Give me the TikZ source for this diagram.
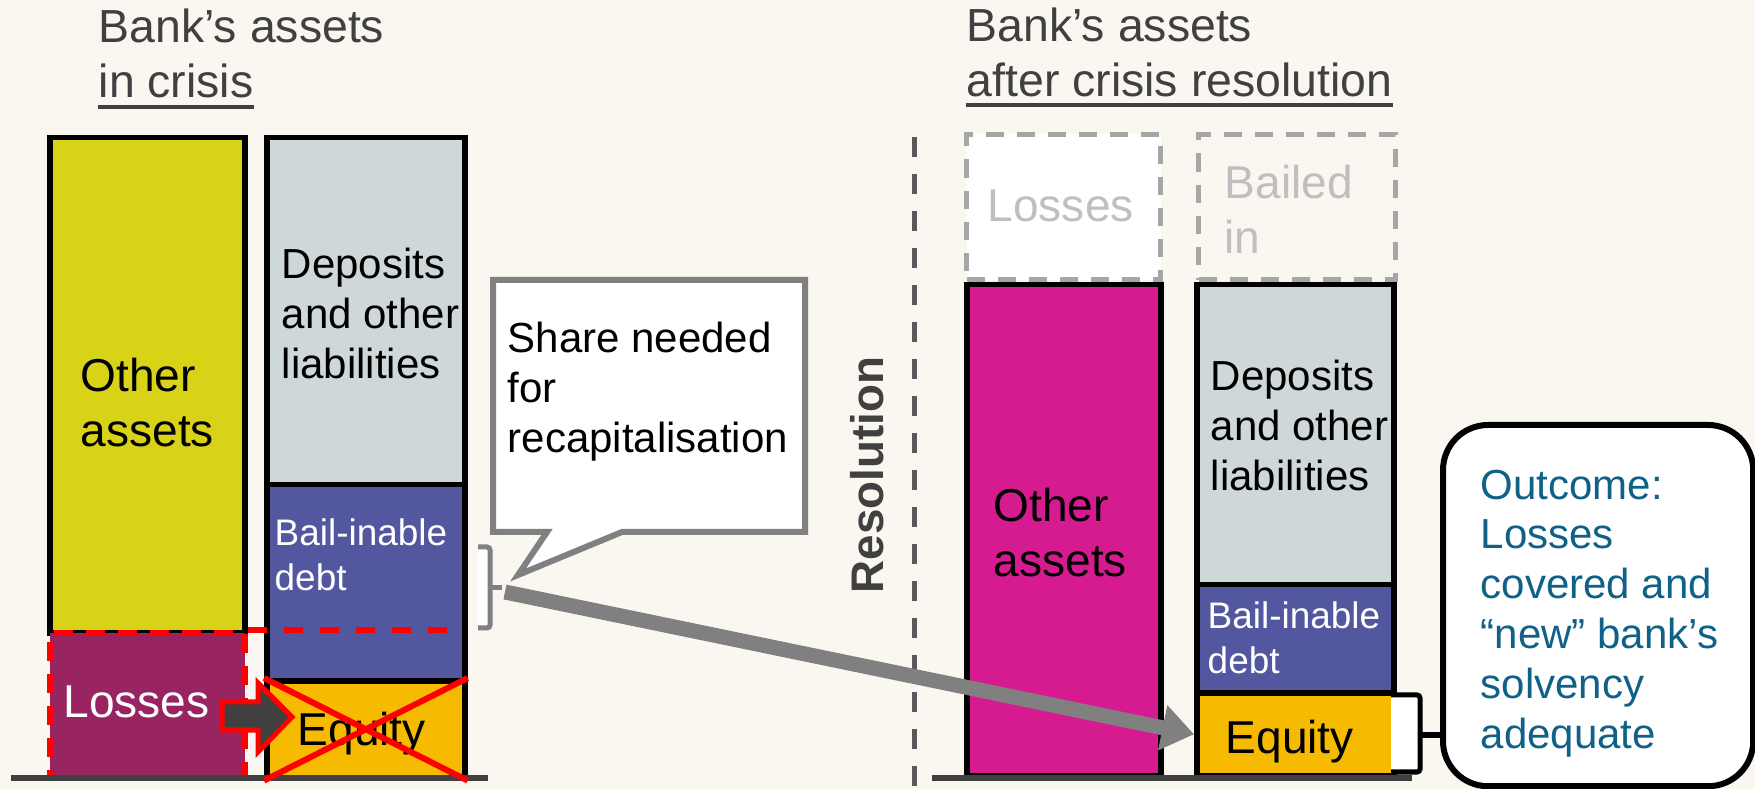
\documentclass[tikz,border=0pt]{standalone}
\usepackage{fontspec}
\setmainfont{Liberation Sans}
\usetikzlibrary{arrows.meta,positioning}
\definecolor{pagebg}{RGB}{250,246,240}
\definecolor{otheryellow}{RGB}{217,211,23}
\definecolor{depgray}{RGB}{207,216,217}
\definecolor{bailblue}{RGB}{82,87,160}
\definecolor{equityorange}{RGB}{246,186,0}
\definecolor{losspurple}{RGB}{153,36,98}
\definecolor{resmagenta}{RGB}{214,27,145}
\definecolor{titlegray}{RGB}{64,64,64}
\definecolor{arrowgray}{RGB}{128,128,128}
\definecolor{ghostgray}{RGB}{166,166,166}
\definecolor{ghosttext}{RGB}{191,191,191}
\definecolor{dividergray}{RGB}{89,89,89}
\definecolor{outcometeal}{RGB}{16,97,135}
\tikzset{barbox/.style={draw=black,line width=0.055cm,anchor=north west,inner sep=0}}
\tikzset{ghostbox/.style={draw=ghostgray,line width=0.05cm,dash pattern=on 0.18cm off 0.13cm,anchor=north west,inner sep=0}}
\tikzset{lossbox/.style={draw=red,line width=0.055cm,dash pattern=on 0.19cm off 0.13cm,anchor=north west,inner sep=0}}
\tikzset{lossline/.style={red,line width=0.055cm,dash pattern=on 0.19cm off 0.17cm}}
\tikzset{crossline/.style={red,line width=0.06cm}}
\tikzset{bigtext/.style={font=\fontsize{13.1}{15.9}\selectfont,inner sep=0,align=left}}
\tikzset{midtext/.style={font=\fontsize{11.95}{14.2}\selectfont,inner sep=0,align=left}}
\tikzset{smalltext/.style={font=\fontsize{10.5}{12.8}\selectfont,inner sep=0,align=left}}
\tikzset{titletext/.style={font=\fontsize{13.2}{15.6}\selectfont,inner sep=0,text=titlegray,anchor=base west}}
\tikzset{uline/.style={titlegray,line width=0.04cm}}
\tikzset{groundline/.style={titlegray,line width=0.05cm}}
\tikzset{divider/.style={dividergray,line width=0.05cm,dash pattern=on 0.2cm off 0.17cm}}
\tikzset{brace/.style={line width=0.05cm,rounded corners=0.03cm}}
\tikzset{callout/.style={draw=arrowgray,fill=white,line width=0.06cm}}
\tikzset{outcomebox/.style={draw=black,fill=white,line width=0.06cm,rounded corners=0.45cm,anchor=north west,inner sep=0}}
\tikzset{bigarrow/.style={-{Triangle[length=0.32cm,width=0.44cm]},line width=0.15cm,arrowgray}}

\begin{document}
\begin{tikzpicture}[x=0.01cm,y=-0.01cm]
  \useasboundingbox (0,0) rectangle (1755,789);
  \fill[pagebg] (0,0) rectangle (1755,789);

  % Bank in crisis
  \node[titletext] (titleL) at (98,43) {Bank’s assets};
  \node[titletext] (titleLb) at (98,98) {in crisis};
  \draw[uline] ([yshift=-0.095cm]titleLb.base west) -- ([yshift=-0.095cm]titleLb.base east);

  \node[barbox,fill=otheryellow,minimum width=1.95cm,minimum height=4.95cm] (oaL) at (47,135) {};
  \node[barbox,draw=none,fill=losspurple,minimum width=1.95cm,minimum height=1.45cm] (lossL) at (47,630) {};
  \node[lossbox,minimum width=1.95cm,minimum height=1.45cm] (lossLedge) at (47,630) {};
  \node[barbox,fill=depgray,minimum width=1.98cm,minimum height=3.47cm] (depL) at (264,135) {};
  \node[barbox,fill=bailblue,minimum width=1.98cm,minimum height=1.96cm] (bailL) at (264,482) {};
  \node[barbox,fill=equityorange,minimum width=1.98cm,minimum height=0.97cm] (eqL) at (264,678) {};
  \draw[groundline] (11,778) -- (488,778);

  \node[bigtext,anchor=north west] (oaLtext) at (80,357) {Other\\assets};
  \node[midtext,anchor=north west] (depLtext) at (281,247) {Deposits\\and other\\liabilities};
  \node[smalltext,anchor=north west,text=white] (bailLtext) at (274,518) {Bail-inable\\debt};
  \node[bigtext,anchor=base west,text=white] (lossLtext) at (63,718) {Losses};
  \node[bigtext,anchor=base west] (eqLtext) at (297,745) {Equity};

  % losses eat the equity
  \draw[lossline] (lossL.north east) -- ([xshift=-0.12cm]lossL.north east -| depL.east);
  \draw[crossline] (eqL.north west) -- (eqL.south east) (eqL.south west) -- (eqL.north east);
  \draw[red,line width=0.05cm,fill=titlegray] (222,702) -- (258,702) -- (258,683) -- (292,717) -- (258,752) -- (258,730) -- (222,730) -- cycle;

  % share needed for recapitalisation
  \draw[callout] (493,280) -- (805,280) -- (805,532) -- (622,532) -- (518,575) -- (547,532) -- (493,532) -- cycle;
  \node[midtext,anchor=north west] (sharetext) at (507,321) {Share needed\\for\\recapitalisation};
  \fill[white] (478,547) rectangle (490,628);
  \draw[brace,arrowgray] (478,547) -- (490,547) -- (490,628) -- (478,628);
  \draw[brace,arrowgray] (490,588) -- (502,588);
  \coordinate (shareTip) at (505,592);

  % resolution
  \node[rotate=90,font=\bfseries\fontsize{13}{15}\selectfont,text=titlegray,inner sep=0] (restext) at (867,475) {Resolution};
  \draw[divider] (914,137) -- (914,789);

  % Bank after resolution
  \node[titletext] (titleR) at (966,42) {Bank’s assets};
  \node[titletext] (titleRb) at (966,97) {after crisis resolution};
  \draw[uline] ([yshift=-0.085cm]titleRb.base west) -- ([yshift=-0.085cm]titleRb.base east);

  \node[ghostbox,fill=white,minimum width=1.94cm,minimum height=1.45cm] (lossR) at (964,132) {};
  \node[ghostbox,minimum width=1.97cm,minimum height=1.45cm] (bailinR) at (1196,132) {};
  \node[bigtext,anchor=base west,text=ghosttext] (lossRtext) at (987,222) {Losses};
  \node[bigtext,anchor=north west,text=ghosttext] (bailinRtext) at (1224,164) {Bailed\\in};

  \node[barbox,fill=resmagenta,minimum width=1.94cm,minimum height=4.91cm] (oaR) at (964,282) {};
  \node[barbox,fill=depgray,minimum width=1.97cm,minimum height=3.00cm] (depR) at (1194,282) {};
  \node[barbox,fill=bailblue,minimum width=1.97cm,minimum height=1.08cm] (bailR) at (1194,582) {};
  \node[barbox,fill=equityorange,minimum width=1.97cm,minimum height=0.83cm] (eqR) at (1194,690) {};
  \draw[groundline] (932,778) -- (1412,778);

  \node[bigtext,anchor=north west] (oaRtext) at (993,487) {Other\\assets};
  \node[midtext,anchor=north west] (depRtext) at (1210,359) {Deposits\\and other\\liabilities};
  \node[smalltext,anchor=north west,text=white] (bailRtext) at (1207,601) {Bail-inable\\debt};
  \node[bigtext,anchor=base west] (eqRtext) at (1225,754) {Equity};

  % outcome
  \fill[white] (1391,695) rectangle (1420,772);
  \draw[brace] (1391,695) -- (1420,695) -- (1420,772) -- (1391,772);
  \coordinate (braceR) at (1420,735);
  \node[outcomebox,minimum width=3.10cm,minimum height=3.61cm] (outcome) at (1440,422) {};
  \draw[brace] (braceR) -- (braceR -| outcome.west);
  \node[midtext,anchor=north west,text=outcometeal] (outcometext) at (1480,469) {Outcome:\\Losses\\covered and\\“new” bank’s\\solvency\\adequate};

  % bail-in moves into equity
  \draw[bigarrow] (shareTip) -- (eqR.west);
\end{tikzpicture}
\end{document}
